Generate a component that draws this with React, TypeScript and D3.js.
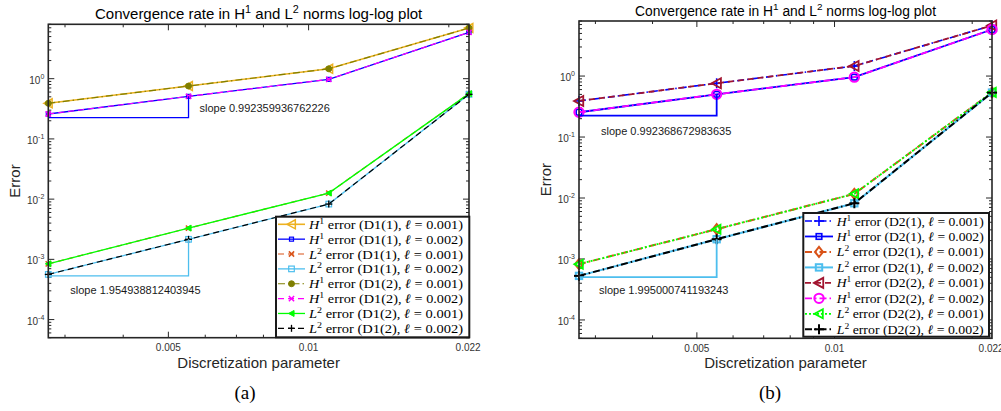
import React from "react";
import * as d3 from "d3";

// Mesh sizes h (sqrt(2)/N for N = 512, 256, 128, 64)
const meshSizes = [0.0027621, 0.0055243, 0.011049, 0.022097];
const xTickValues = [0.005, 0.01, 0.022];
const xTickLabels = ["0.005", "0.01", "0.022"];
const xMinorValues = [0.003, 0.004, 0.006, 0.007, 0.008, 0.009, 0.02];
const yDomain = [5e-5, 8];
const yTickExponents = [0, -1, -2, -3, -4];

// Panel (a): D1 schemes
const aH1D11Ell1 = [0.39, 0.755, 1.46, 6.95];
const aH1D11Ell2 = [0.259, 0.509, 0.975, 5.89];
const aL2D11Ell1 = [0.000843, 0.0033, 0.0126, 0.565];
const aL2D11Ell2 = [0.000562, 0.00215, 0.00828, 0.55];
const aH1D12Ell1 = [0.39, 0.755, 1.46, 6.95];
const aH1D12Ell2 = [0.259, 0.509, 0.975, 5.89];
const aL2D12Ell1 = [0.000843, 0.0033, 0.0126, 0.565];
const aL2D12Ell2 = [0.000562, 0.00215, 0.00828, 0.55];

// Panel (b): D2 schemes
const bH1D21Ell1 = [0.391, 0.762, 1.46, 6.75];
const bH1D21Ell2 = [0.255, 0.502, 0.96, 5.8];
const bL2D21Ell1 = [0.000822, 0.00308, 0.0117, 0.54];
const bL2D21Ell2 = [0.000528, 0.00211, 0.0082, 0.535];
const bH1D22Ell1 = [0.391, 0.762, 1.46, 6.75];
const bH1D22Ell2 = [0.255, 0.502, 0.96, 5.8];
const bL2D22Ell1 = [0.000822, 0.00308, 0.0117, 0.54];
const bL2D22Ell2 = [0.000528, 0.00211, 0.0082, 0.535];

// Slope triangle corners (error value of the horizontal leg)
const aSlopeBaseH1 = 0.225;
const aSlopeBaseL2 = 0.000533;
const bSlopeBaseH1 = 0.224;
const bSlopeBaseL2 = 0.000502;
const aSlopeTexts = ["slope 0.992359936762226", "slope 1.954938812403945"];
const bSlopeTexts = ["slope 0.992368672983635", "slope 1.995000741193243"];

type MarkerKind = "triLeft" | "circle" | "square" | "diamond" | "x" | "plus";

interface Series {
  norm: string;
  power: string;
  scheme: string;
  ell: string;
  values: number[];
  color: string;
  dash: string;
  width: number;
  marker: MarkerKind;
  size: number;
  filled: boolean;
  mw: number;
}

const DASH = "6,4";
const DASHDOT = "7,3,1.5,3";
const DOT = "2,2";

const seriesA: Series[] = [
  { norm: "H", power: "1", scheme: "D1(1)", ell: "0.001", values: aH1D11Ell1, color: "#EDB120", dash: "", width: 1.6, marker: "triLeft", size: 9, filled: false, mw: 1.5 },
  { norm: "H", power: "1", scheme: "D1(1)", ell: "0.002", values: aH1D11Ell2, color: "#0000FF", dash: "", width: 1.3, marker: "square", size: 5, filled: false, mw: 1.2 },
  { norm: "L", power: "2", scheme: "D1(1)", ell: "0.001", values: aL2D11Ell1, color: "#D95319", dash: DASH, width: 1.2, marker: "x", size: 7, filled: false, mw: 1.5 },
  { norm: "L", power: "2", scheme: "D1(1)", ell: "0.002", values: aL2D11Ell2, color: "#4DBEEE", dash: "", width: 1.3, marker: "square", size: 7, filled: false, mw: 1.2 },
  { norm: "H", power: "1", scheme: "D1(2)", ell: "0.001", values: aH1D12Ell1, color: "#7F7F00", dash: DASHDOT, width: 1.2, marker: "circle", size: 7, filled: true, mw: 1 },
  { norm: "H", power: "1", scheme: "D1(2)", ell: "0.002", values: aH1D12Ell2, color: "#FF00FF", dash: DASH, width: 1.2, marker: "x", size: 7, filled: false, mw: 1.5 },
  { norm: "L", power: "2", scheme: "D1(2)", ell: "0.001", values: aL2D12Ell1, color: "#00FF00", dash: "", width: 1.3, marker: "triLeft", size: 6, filled: true, mw: 1 },
  { norm: "L", power: "2", scheme: "D1(2)", ell: "0.002", values: aL2D12Ell2, color: "#000000", dash: DASH, width: 1.2, marker: "plus", size: 7, filled: false, mw: 1.3 },
];

const seriesB: Series[] = [
  { norm: "H", power: "1", scheme: "D2(1)", ell: "0.001", values: bH1D21Ell1, color: "#0000FF", dash: DASHDOT, width: 1.6, marker: "plus", size: 10, filled: false, mw: 1.6 },
  { norm: "H", power: "1", scheme: "D2(1)", ell: "0.002", values: bH1D21Ell2, color: "#0000FF", dash: "", width: 1.8, marker: "square", size: 7, filled: false, mw: 1.6 },
  { norm: "L", power: "2", scheme: "D2(1)", ell: "0.001", values: bL2D21Ell1, color: "#D95319", dash: DASHDOT, width: 2, marker: "diamond", size: 10, filled: false, mw: 2 },
  { norm: "L", power: "2", scheme: "D2(1)", ell: "0.002", values: bL2D21Ell2, color: "#4DBEEE", dash: "", width: 2, marker: "square", size: 8, filled: false, mw: 2 },
  { norm: "H", power: "1", scheme: "D2(2)", ell: "0.001", values: bH1D22Ell1, color: "#A2142F", dash: DASH, width: 1.8, marker: "triLeft", size: 10, filled: false, mw: 1.8 },
  { norm: "H", power: "1", scheme: "D2(2)", ell: "0.002", values: bH1D22Ell2, color: "#FF00FF", dash: DASHDOT, width: 1.8, marker: "circle", size: 11, filled: false, mw: 2 },
  { norm: "L", power: "2", scheme: "D2(2)", ell: "0.001", values: bL2D22Ell1, color: "#00FF00", dash: DOT, width: 1.8, marker: "triLeft", size: 9, filled: false, mw: 1.8 },
  { norm: "L", power: "2", scheme: "D2(2)", ell: "0.002", values: bL2D22Ell2, color: "#000000", dash: DASHDOT, width: 2, marker: "plus", size: 10, filled: false, mw: 2 },
];

const AXIS = "#262626";
const SANS = "Liberation Sans, Arial, Helvetica, sans-serif";
const SERIF = "Liberation Serif, Times New Roman, serif";

function Marker({ kind, x, y, size, color, filled, mw }: { kind: MarkerKind; x: number; y: number; size: number; color: string; filled: boolean; mw: number }) {
  const r = size / 2;
  const fill = filled ? color : "none";
  switch (kind) {
    case "triLeft":
      return <polygon points={`${x - r},${y} ${x + r * 0.85},${y - r} ${x + r * 0.85},${y + r}`} fill={fill} stroke={color} strokeWidth={mw} />;
    case "circle":
      return <circle cx={x} cy={y} r={r * 0.85} fill={fill} stroke={color} strokeWidth={mw} />;
    case "square":
      return <rect x={x - r * 0.8} y={y - r * 0.8} width={r * 1.6} height={r * 1.6} fill={fill} stroke={color} strokeWidth={mw} />;
    case "diamond":
      return <polygon points={`${x},${y - r} ${x + r * 0.8},${y} ${x},${y + r} ${x - r * 0.8},${y}`} fill={fill} stroke={color} strokeWidth={mw} />;
    case "x": {
      const a = r * 0.75;
      return (
        <g stroke={color} strokeWidth={mw}>
          <line x1={x - a} y1={y - a} x2={x + a} y2={y + a} />
          <line x1={x - a} y1={y + a} x2={x + a} y2={y - a} />
        </g>
      );
    }
    case "plus":
      return (
        <g stroke={color} strokeWidth={mw}>
          <line x1={x - r} y1={y} x2={x + r} y2={y} />
          <line x1={x} y1={y - r} x2={x} y2={y + r} />
        </g>
      );
  }
  return null;
}

interface PanelProps {
  left: number;
  right: number;
  top: number;
  bottom: number;
  series: Series[];
  slopeBases: number[];
  slopeTexts: string[];
  slopeTextAnchors: ("corner" | "start")[];
  slopeTextOffsets: [number, number][];
  titleSize: number;
  titleY: number;
  legend: { x0: number; x1: number; y0: number; y1: number; row0: number; step: number; sample: [number, number]; textX: number; textLen: number };
  caption: string;
  captionX: number;
  triWidth: number;
}

function Panel(p: PanelProps) {
  const x = d3.scaleLog().domain([meshSizes[0], meshSizes[3]]).range([p.left, p.right]);
  const y = d3.scaleLog().domain(yDomain).range([p.bottom, p.top]);
  const line = d3
    .line<number>()
    .x((_, i) => x(meshSizes[i]))
    .y((v) => y(v));
  const cx = (p.left + p.right) / 2;
  const cy = (p.top + p.bottom) / 2;

  // Log minor ticks on y
  const yTicks: { v: number; major: boolean }[] = [];
  for (let e = -5; e <= 1; e++) {
    for (let k = 1; k <= 9; k++) {
      const v = k * Math.pow(10, e);
      if (v >= yDomain[0] && v <= yDomain[1]) yTicks.push({ v, major: k === 1 });
    }
  }
  const xTicks = [
    ...xTickValues.map((v) => ({ v, major: true })),
    ...xMinorValues.map((v) => ({ v, major: false })),
  ];

  // Slope triangles: H1 on the ℓ=0.002 H1 series, L2 on the ℓ=0.002 L2 series
  const triSeries = [p.series[1], p.series[3]];
  const triColors = ["#0000FF", "#4DBEEE"];
  const supShift = p.titleSize * 0.4;

  return (
    <g>
      {/* title */}
      <text x={cx} y={p.titleY} textAnchor="middle" fontFamily={SANS} fontSize={p.titleSize} fill="#000">
        Convergence rate in H
        <tspan dy={-supShift} fontSize={p.titleSize * 0.72}>1</tspan>
        <tspan dy={supShift}> and L</tspan>
        <tspan dy={-supShift} fontSize={p.titleSize * 0.72}>2</tspan>
        <tspan dy={supShift}> norms log-log plot</tspan>
      </text>

      {/* ticks */}
      <g stroke={AXIS} strokeWidth={1}>
        {yTicks.map((t, i) => {
          const len = t.major ? 6 : 3;
          const yy = y(t.v);
          return (
            <g key={"y" + i}>
              <line x1={p.left} x2={p.left + len} y1={yy} y2={yy} />
              <line x1={p.right} x2={p.right - len} y1={yy} y2={yy} />
            </g>
          );
        })}
        {xTicks.map((t, i) => {
          const len = t.major ? 6 : 3;
          const xx = x(t.v);
          return (
            <g key={"x" + i}>
              <line x1={xx} x2={xx} y1={p.bottom} y2={p.bottom - len} />
              <line x1={xx} x2={xx} y1={p.top} y2={p.top + len} />
            </g>
          );
        })}
      </g>

      {/* y tick labels */}
      {yTickExponents.map((e) => (
        <text key={e} x={p.left - 4} y={y(Math.pow(10, e)) + 5} textAnchor="end" fontFamily={SANS} fontSize={10} fill="#333">
          10
          <tspan dy={-5} fontSize={7}>{e === 0 ? "0" : String(e)}</tspan>
        </text>
      ))}
      {/* x tick labels */}
      {xTickValues.map((v, i) => (
        <text key={v} x={x(v)} y={p.bottom + 13.5} textAnchor="middle" fontFamily={SANS} fontSize={10} fill="#333">
          {xTickLabels[i]}
        </text>
      ))}

      {/* axis labels */}
      <text x={cx} y={p.bottom + 30} textAnchor="middle" fontFamily={SANS} fontSize={15} fill="#262626">
        Discretization parameter
      </text>
      <text
        transform={`translate(${p.left - 28},${cy}) rotate(-90)`}
        textAnchor="middle"
        fontFamily={SANS}
        fontSize={15}
        fill="#262626"
      >
        Error
      </text>

      {/* data */}
      {p.series.map((s, i) => (
        <g key={i}>
          <path d={line(s.values) || ""} fill="none" stroke={s.color} strokeWidth={s.width} strokeDasharray={s.dash || undefined} />
          {s.values.map((v, j) => (
            <Marker key={j} kind={s.marker} x={x(meshSizes[j])} y={y(v)} size={s.size} color={s.color} filled={s.filled} mw={s.mw} />
          ))}
        </g>
      ))}

      {/* slope triangles */}
      {triSeries.map((s, i) => {
        const x0 = x(meshSizes[0]);
        const x1 = x(meshSizes[1]);
        const yb = y(p.slopeBases[i]);
        const yt = y(s.values[1]);
        const tx = (p.slopeTextAnchors[i] === "corner" ? x1 : x0) + p.slopeTextOffsets[i][0];
        return (
          <g key={"tri" + i}>
            <polyline points={`${x0},${yb} ${x1},${yb} ${x1},${yt}`} fill="none" stroke={triColors[i]} strokeWidth={p.triWidth} />
            <text x={tx} y={yb + p.slopeTextOffsets[i][1] + 4} fontFamily={SANS} fontSize={11} fill="#1a1a1a">
              {p.slopeTexts[i]}
            </text>
          </g>
        );
      })}

      {/* axes box */}
      <rect x={p.left} y={p.top} width={p.right - p.left} height={p.bottom - p.top} fill="none" stroke={AXIS} strokeWidth={1.6} />

      {/* legend */}
      <rect
        x={p.legend.x0}
        y={p.legend.y0}
        width={p.legend.x1 - p.legend.x0}
        height={p.legend.y1 - p.legend.y0}
        fill="#fff"
        stroke="#1a1a1a"
        strokeWidth={2}
      />
      {p.series.map((s, i) => {
        const ry = p.legend.row0 + i * p.legend.step;
        const [sx0, sx1] = p.legend.sample;
        return (
          <g key={"lg" + i}>
            <line x1={sx0} x2={sx1} y1={ry} y2={ry} stroke={s.color} strokeWidth={s.width} strokeDasharray={s.dash || undefined} />
            <Marker kind={s.marker} x={(sx0 + sx1) / 2} y={ry} size={s.size} color={s.color} filled={s.filled} mw={s.mw} />
            <text x={p.legend.textX} y={ry + 4.5} fontFamily={SERIF} fontSize={13} fill="#000" textLength={p.legend.textLen} lengthAdjust="spacingAndGlyphs">
              <tspan fontStyle="italic">{s.norm}</tspan>
              <tspan dy={-5} fontSize={9}>{s.power}</tspan>
              <tspan dy={5}>{" error (" + s.scheme + ", "}</tspan>
              <tspan fontStyle="italic">ℓ</tspan>
              <tspan>{" = " + s.ell + ")"}</tspan>
            </text>
          </g>
        );
      })}

      {/* caption */}
      <text x={p.captionX} y={399} textAnchor="middle" fontFamily={SERIF} fontSize={19} fill="#000">
        {p.caption}
      </text>
    </g>
  );
}

export default function App() {
  return (
    <svg width={1001} height={411} style={{ position: "absolute", left: 0, top: 0, background: "#fff" }}>
      <Panel
        left={48.3}
        right={469}
        top={24.3}
        bottom={337.7}
        series={seriesA}
        slopeBases={[aSlopeBaseH1, aSlopeBaseL2]}
        slopeTexts={aSlopeTexts}
        slopeTextAnchors={["corner", "start"]}
        slopeTextOffsets={[[11, -10], [22, 14]]}
        titleSize={15}
        titleY={18.5}
        legend={{ x0: 276, x1: 469.3, y0: 216.7, y1: 337.3, row0: 224.3, step: 14.86, sample: [278, 305], textX: 309, textLen: 154 }}
        caption="(a)"
        captionX={245}
        triWidth={1.3}
      />
      <Panel
        left={579}
        right={992}
        top={21}
        bottom={338.3}
        series={seriesB}
        slopeBases={[bSlopeBaseH1, bSlopeBaseL2]}
        slopeTexts={bSlopeTexts}
        slopeTextAnchors={["start", "start"]}
        slopeTextOffsets={[[22, 15], [20, 13]]}
        titleSize={13.8}
        titleY={16}
        legend={{ x0: 803.3, x1: 989, y0: 213, y1: 336.7, row0: 221, step: 15.47, sample: [805, 833], textX: 836.7, textLen: 147 }}
        caption="(b)"
        captionX={770}
        triWidth={1.8}
      />
    </svg>
  );
}
